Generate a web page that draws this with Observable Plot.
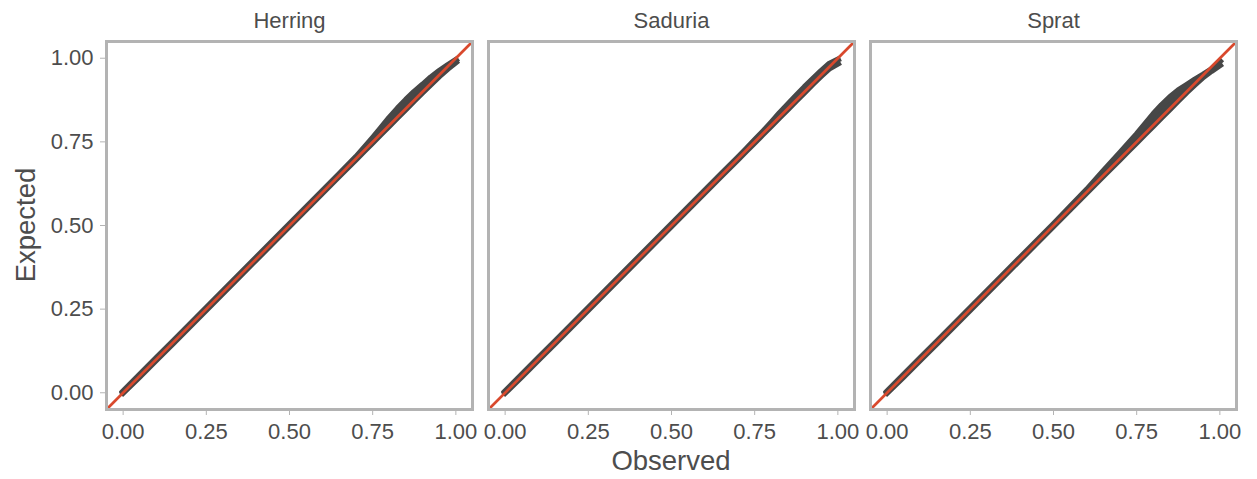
<!DOCTYPE html>
<html>
<head>
<meta charset="utf-8">
<script src="https://cdn.jsdelivr.net/npm/d3@7"></script>
<script src="https://cdn.jsdelivr.net/npm/@observablehq/plot@0.6"></script>
<style>
  html, body { margin: 0; padding: 0; background: #ffffff; }
  #chart { width: 1257px; height: 479px; }
</style>
</head>
<body>
<div id="chart"></div>
<script>
// ---- data ----
const species = ["Herring", "Saduria", "Sprat"];
const observed = [0, 0.05, 0.1, 0.15, 0.2, 0.25, 0.3, 0.35, 0.4, 0.45, 0.5, 0.55, 0.6, 0.65, 0.7,
                  0.725, 0.75, 0.775, 0.8, 0.825, 0.85, 0.875, 0.9, 0.925, 0.95, 0.975, 1];
// expected quantiles: lower and upper edge of the point cloud at each observed value
const herringLo = [0, 0.048, 0.098, 0.148, 0.198, 0.248, 0.298, 0.348, 0.398, 0.448, 0.498, 0.548, 0.598, 0.648, 0.698,
                   0.723, 0.748, 0.773, 0.798, 0.823, 0.848, 0.873, 0.898, 0.922, 0.946, 0.968, 0.988];
const herringHi = [0.004, 0.054, 0.104, 0.154, 0.204, 0.254, 0.304, 0.354, 0.404, 0.454, 0.504, 0.554, 0.604, 0.654, 0.705,
                   0.733, 0.762, 0.792, 0.822, 0.85, 0.876, 0.9, 0.921, 0.943, 0.962, 0.979, 0.995];
const saduriaLo = [0, 0.048, 0.098, 0.148, 0.198, 0.248, 0.298, 0.348, 0.398, 0.448, 0.498, 0.548, 0.598, 0.648, 0.698,
                   0.723, 0.748, 0.773, 0.798, 0.823, 0.848, 0.873, 0.898, 0.923, 0.947, 0.97, 0.984];
const saduriaHi = [0.004, 0.054, 0.104, 0.154, 0.204, 0.254, 0.304, 0.354, 0.404, 0.454, 0.504, 0.554, 0.604, 0.654, 0.704,
                   0.729, 0.755, 0.781, 0.808, 0.836, 0.862, 0.888, 0.914, 0.938, 0.962, 0.984, 0.996];
const spratLo   = [0, 0.048, 0.098, 0.148, 0.198, 0.248, 0.298, 0.348, 0.398, 0.448, 0.498, 0.548, 0.598, 0.648, 0.698,
                   0.723, 0.748, 0.773, 0.798, 0.823, 0.848, 0.873, 0.898, 0.921, 0.944, 0.962, 0.979];
const spratHi   = [0.004, 0.054, 0.104, 0.154, 0.204, 0.254, 0.304, 0.354, 0.404, 0.454, 0.504, 0.556, 0.607, 0.663, 0.717,
                   0.745, 0.773, 0.803, 0.833, 0.86, 0.884, 0.904, 0.92, 0.936, 0.951, 0.967, 0.991];
const tickValues = [0, 0.25, 0.5, 0.75, 1];
const axisDomain = [-0.05, 1.05];

// ---- table for the library ----
const series = {Herring: [herringLo, herringHi], Saduria: [saduriaLo, saduriaHi], Sprat: [spratLo, spratHi]};
const table = [];
for (const s of species) {
  observed.forEach((o, i) => table.push({species: s, obs: o, lo: series[s][0][i], hi: series[s][1][i]}));
}

const band = "#474747";
const red = "#d9492d";
const gridGray = "#b3b3b3";
const textGray = "#4d4d4d";
const fmt = d3.format(".2f");

const chart = Plot.plot({
  width: 1257,
  height: 479,
  marginLeft: 106,
  marginRight: 20,
  marginTop: 41,
  marginBottom: 70,
  style: {fontFamily: "'Liberation Sans', Arial, Helvetica, sans-serif", fontSize: "22px", color: textGray, background: "#ffffff", overflow: "visible"},
  x: {domain: axisDomain},
  y: {domain: axisDomain},
  fx: {domain: species, paddingInner: 0.041, paddingOuter: 0},
  marks: [
    Plot.areaY(table, {fx: "species", x: "obs", y1: "lo", y2: "hi", fill: band, curve: "linear"}),
    Plot.line(table, {fx: "species", x: "obs", y: "lo", stroke: band, strokeWidth: 6, strokeLinecap: "square"}),
    Plot.line(table, {fx: "species", x: "obs", y: "hi", stroke: band, strokeWidth: 6, strokeLinecap: "square"}),
    Plot.line(axisDomain, {x: d => d, y: d => d, stroke: red, strokeWidth: 2.7, clip: true}),
    Plot.frame({stroke: gridGray, strokeWidth: 3}),
    Plot.axisX({ticks: tickValues, tickFormat: fmt, tickSize: 6, tickPadding: 8, label: null, fontSize: 22, stroke: gridGray, fill: textGray}),
    Plot.axisY({ticks: tickValues, tickFormat: fmt, tickSize: 6, tickPadding: 7, label: null, fontSize: 22, stroke: gridGray, fill: textGray}),
    Plot.axisFx({anchor: "top", tickSize: 0, tickPadding: 14, label: null, fontSize: 22, fill: textGray})
  ]
});

document.getElementById("chart").appendChild(chart);

// axis titles
const svg = d3.select(chart);
svg.append("text")
  .attr("x", 671).attr("y", 470)
  .attr("text-anchor", "middle")
  .attr("font-size", 27.5)
  .attr("fill", textGray)
  .text("Observed");
svg.append("text")
  .attr("transform", "translate(35,225) rotate(-90)")
  .attr("text-anchor", "middle")
  .attr("font-size", 27.5)
  .attr("fill", textGray)
  .text("Expected");
</script>
</body>
</html>
